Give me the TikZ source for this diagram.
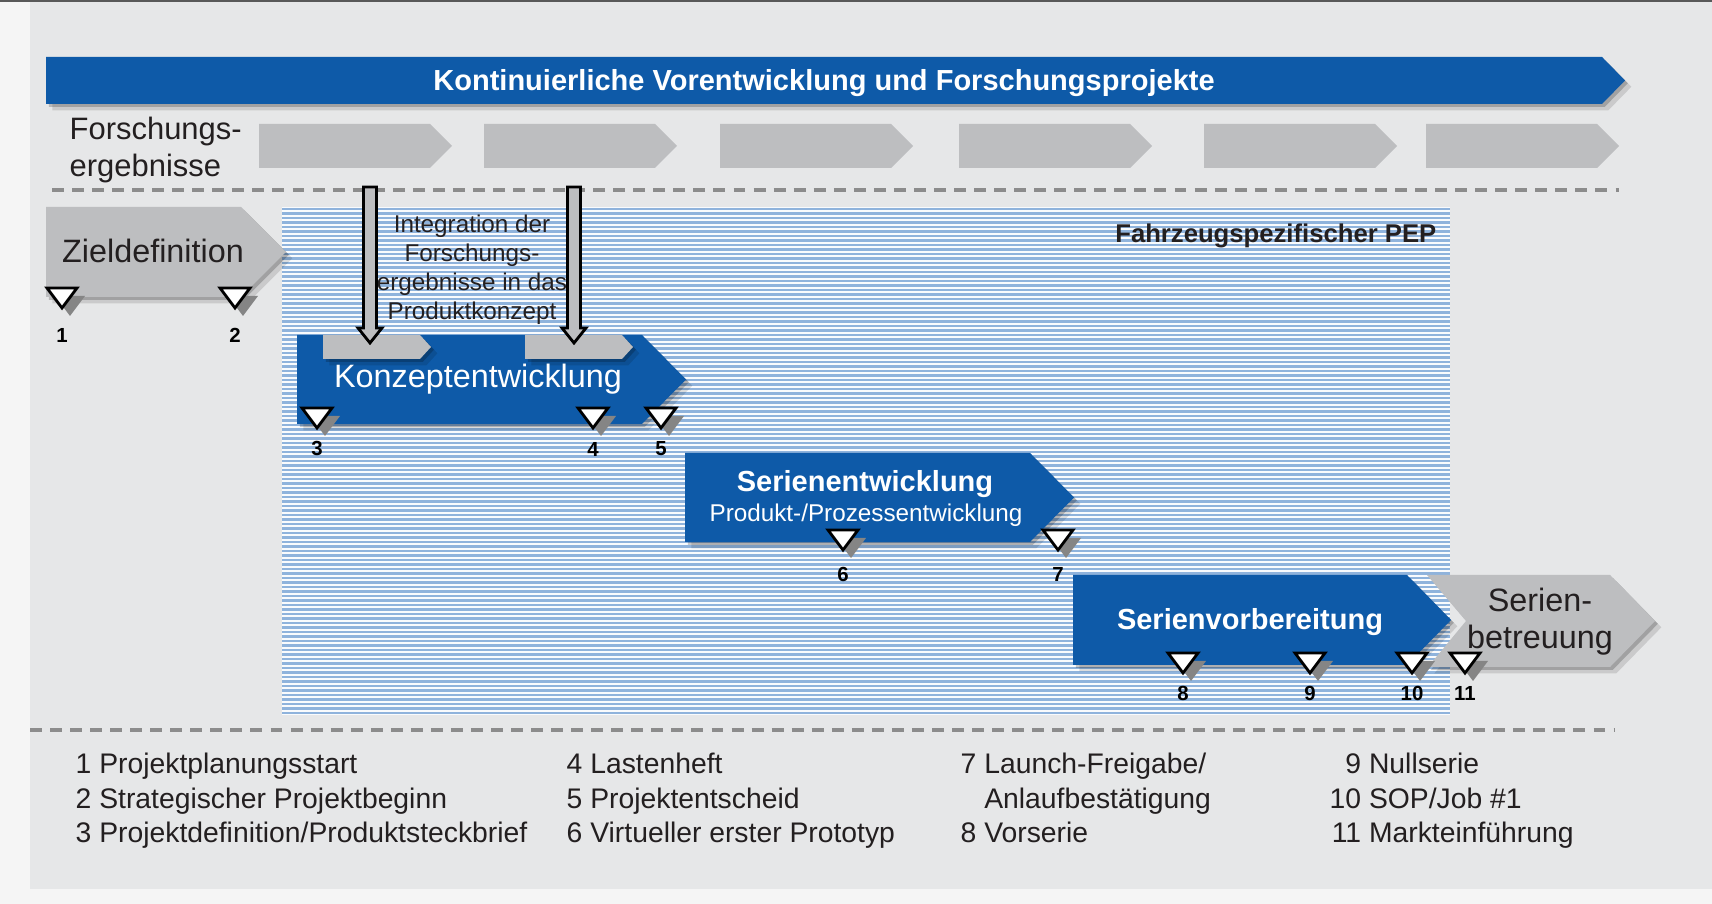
\documentclass[tikz,border=0pt]{standalone}
\usepackage{fontspec}
\setmainfont{Liberation Sans}
\usetikzlibrary{calc}
\usetikzlibrary{shadows}
\definecolor{pepblue}{HTML}{0E5AA8}
\definecolor{pepgray}{HTML}{BDBEC0}
\definecolor{bggray}{HTML}{E6E7E8}
\definecolor{txtdark}{HTML}{231F20}
\definecolor{stripeblue}{HTML}{8FB3DC}
\definecolor{sepgray}{HTML}{8C8C8C}
\tikzset{soft/.style={drop shadow={shadow xshift=0.8pt,shadow yshift=-0.8pt,opacity=0.2,fill=black},
                      drop shadow={shadow xshift=1.8pt,shadow yshift=-1.8pt,opacity=0.12,fill=black}}}
\tikzset{phase/.style={fill=pepblue,soft}}
\tikzset{grayphase/.style={fill=pepgray,soft}}
\tikzset{resarrow/.style={fill=pepgray}}
\tikzset{sep/.style={draw=sepgray,line width=1.1pt,dash pattern=on 3.4pt off 2.3pt}}
\tikzset{stripe/.style={draw=stripeblue,line width=0.6pt}}
\tikzset{intarrow/.style={draw=black,fill=pepgray,line width=0.8pt,line join=miter}}
\tikzset{ms/.style={draw=black,fill=white,line width=0.8pt,line join=miter}}
\tikzset{msshadow/.style={fill=black!48}}
\tikzset{msnum/.style={font=\bfseries\fontsize{5.8}{6}\selectfont,inner sep=0pt}}
\tikzset{big/.style={font=\fontsize{9.2}{10.6}\selectfont,inner sep=0pt}}
\tikzset{small/.style={font=\fontsize{6.9}{8.3}\selectfont,inner sep=0pt}}
\tikzset{head/.style={font=\bfseries\fontsize{8.25}{10}\selectfont,inner sep=0pt}}
\tikzset{legend/.style={font=\fontsize{8.05}{9.8}\selectfont,inner sep=0pt,anchor=north west,text=txtdark}}

\begin{document}
\begin{tikzpicture}[x=0.01cm,y=-0.01cm]
        \useasboundingbox (0,0) rectangle (1712,904);
        \fill[black!4] (0,0) rectangle (1712,904);
        \fill[bggray] (30,0) rectangle (1712,889);
        \draw[black!65,line width=0.6pt] (0,1) -- (1712,1);

        % continuous research bar
        \path[phase] (46,57) -- (1602,57) -- (1625,80.5) -- (1602,104) -- (46,104) -- cycle;
        \node[head,white,anchor=base] (title) at (824,91) {Kontinuierliche Vorentwicklung und Forschungsprojekte};

        \node[big,font=\fontsize{8.8}{10.5}\selectfont,text=txtdark,align=left,anchor=north west] (fe) at (69,116) {Forschungs-\\ergebnisse};
        \foreach \rx in {259,484,720,959,1204,1426}
          \fill[resarrow] (\rx,124) -- ++(171,0) -- ++(22,22) -- ++(-22,22) -- ++(-171,0) -- cycle;

        \draw[sep] (52,190) -- (1619,190);
        \draw[sep] (30,730) -- (1615,730);

        % vehicle specific PEP
        \fill[white!95!stripeblue] (282,207) rectangle (1450,715);
        \foreach \sy in {209,213.5,...,714}
          \draw[stripe] (282,\sy) -- (1450,\sy);
        \node[head,font=\bfseries\fontsize{7.3}{9}\selectfont,text=txtdark,anchor=base east] (pep) at (1437,243) {Fahrzeugspezifischer PEP};

        % phases
        \path[grayphase] (46,207) -- (241,207) -- (286,252) -- (241,297) -- (46,297) -- cycle;
        \node[big,text=txtdark,anchor=base] (ziel) at (153,263) {Zieldefinition};

        \path[phase] (297,335) -- (642,335) -- (686,379.5) -- (642,424) -- (297,424) -- cycle;
        \path[grayphase] (323,335) -- (420,335) -- (431,347) -- (420,359) -- (323,359) -- cycle;
        \path[grayphase] (525,335) -- (622,335) -- (633,347) -- (622,359) -- (525,359) -- cycle;
        \node[big,white,anchor=base] (konzept) at (478,388) {Konzeptentwicklung};

        \path[phase] (685,453) -- (1030,453) -- (1074,497.5) -- (1030,542) -- (685,542) -- cycle;
        \node[head,white,anchor=base] (serie) at (865,492) {Serienentwicklung};
        \node[small,white,anchor=base] (prod) at (866,522) {Produkt-/Prozessentwicklung};

        \path[grayphase] (1427,575) -- (1610,575) -- (1655,621) -- (1610,667) -- (1428,667) -- (1466,621) -- cycle;
        \node[big,text=txtdark,align=center,anchor=north] (betr) at (1540,587) {Serien-\\betreuung};

        \path[phase] (1073,575) -- (1407,575) -- (1451,620) -- (1407,665) -- (1073,665) -- cycle;
        \node[head,white,anchor=base] (vorb) at (1250,630) {Serienvorbereitung};

        % integration of research results
        \node[small,text=txtdark,align=center,anchor=north] (integ) at (472,214) {Integration der\\Forschungs-\\ergebnisse in das\\Produktkonzept};
        \coordinate (src1) at (370,187);
        \coordinate (dst1) at (370,343);
        \coordinate (src2) at (574,187);
        \coordinate (dst2) at (574,343);
        \draw[intarrow] ($(src1)+(-6.5,0)$) -- ($(dst1)+(-6.5,-15)$) -- ($(dst1)+(-12,-15)$) -- (dst1)
          -- ($(dst1)+(12,-15)$) -- ($(dst1)+(6.5,-15)$) -- ($(src1)+(6.5,0)$) -- cycle;
        \draw[intarrow] ($(src2)+(-6.5,0)$) -- ($(dst2)+(-6.5,-15)$) -- ($(dst2)+(-12,-15)$) -- (dst2)
          -- ($(dst2)+(12,-15)$) -- ($(dst2)+(6.5,-15)$) -- ($(src2)+(6.5,0)$) -- cycle;

        % milestones
        \foreach \mx/\my/\ml/\n in {62/288/335/1, 235/288/335/2, 317/408/449/3, 593/408/449/4, 661/408/449/5,
            843/530/574/6, 1058/530/574/7, 1183/653/693/8, 1310/653/693/9, 1412/653/693/10, 1465/653/693/11}
        {
          \fill[msshadow] (\mx-7,\my+8) -- (\mx+23,\my+8) -- (\mx+8,\my+28) -- cycle;
          \filldraw[ms] (\mx-15,\my) -- (\mx+15,\my) -- (\mx,\my+20) -- cycle;
          \node[msnum] (m\n) at (\mx,\ml) {\n};
        }

        % legend
        \node[legend] (leg1) at (75,749) {\begin{tabular}{@{}r@{\ }l@{}}
            1 & Projektplanungsstart\\ 2 & Strategischer Projektbeginn\\ 3 & Projektdefinition/Produktsteckbrief\end{tabular}};
        \node[legend] (leg2) at (566,749) {\begin{tabular}{@{}r@{\ }l@{}}
            4 & Lastenheft\\ 5 & Projektentscheid\\ 6 & Virtueller erster Prototyp\end{tabular}};
        \node[legend] (leg3) at (960,749) {\begin{tabular}{@{}r@{\ }l@{}}
            7 & Launch-Freigabe/\\ & Anlaufbestätigung\\ 8 & Vorserie\end{tabular}};
        \node[legend] (leg4) at (1329,749) {\begin{tabular}{@{}r@{\ }l@{}}
            9 & Nullserie\\ 10 & SOP/Job \#1\\ 11 & Markteinführung\end{tabular}};
    \end{tikzpicture}
\end{document}
